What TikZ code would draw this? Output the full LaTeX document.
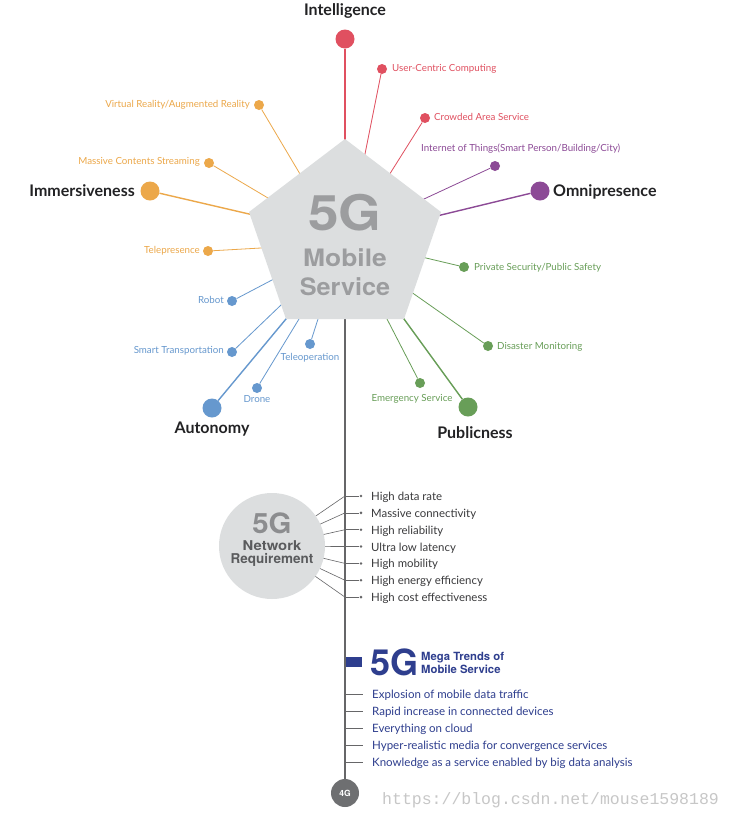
\documentclass[tikz,border=0pt]{standalone}
\usepackage{fontspec}
\setmainfont{Lato}
\newfontfamily\heros{TeX Gyre Heros}
\newfontfamily\wmfont{Liberation Mono}
\usetikzlibrary{calc}
\definecolor{cRed}{RGB}{224,80,96}
\definecolor{cOrange}{RGB}{236,168,74}
\definecolor{cPurple}{RGB}{140,74,150}
\definecolor{cGreen}{RGB}{104,158,88}
\definecolor{cBlue}{RGB}{102,152,206}
\definecolor{cPent}{RGB}{220,222,223}
\definecolor{cPentText}{RGB}{156,157,159}
\definecolor{cCat}{RGB}{34,34,36}
\definecolor{cNavy}{RGB}{46,62,142}
\definecolor{cAxis}{RGB}{102,102,104}
\definecolor{cReq}{RGB}{58,58,60}
\definecolor{cFourG}{RGB}{110,111,113}
\definecolor{cNetText}{RGB}{90,91,93}
\definecolor{cNet5G}{RGB}{140,141,143}
\begin{document}
\begin{tikzpicture}[x=1pt,y=-1pt,
  bigdot/.style={circle,fill=#1,inner sep=0pt,minimum size=19pt},
  smalldot/.style={circle,fill=#1,inner sep=0pt,minimum size=10pt},
  thinline/.style={draw=#1,line width=0.8pt,shorten >=-6pt},
  mainline/.style={draw=#1,line width=1.4pt,shorten >=-6pt},
  cat/.style={font=\fontsize{16}{18}\selectfont\bfseries,text=cCat,inner sep=0pt},
  lab/.style={font=\fontsize{9.75}{11}\selectfont,text=#1,inner sep=0pt,text height=7pt,text depth=2pt},
  req/.style={font=\fontsize{11.4}{13}\selectfont,text=cReq,inner sep=0pt,anchor=base west},
  trend/.style={font=\fontsize{11.5}{13}\selectfont,text=cNavy,inner sep=0pt,anchor=base west},
  tick/.style={draw=cAxis,line width=0.6pt},
  reqdot/.style={circle,fill=cAxis,inner sep=0pt,minimum size=2.8pt},
]
\useasboundingbox (0,0) rectangle (733,820);
\fill[white] (0,0) rectangle (733,820);

% pentagon corners
\coordinate (pT) at (345,139);
\coordinate (pR) at (441,212);
\coordinate (pBR) at (404,319);
\coordinate (pBL) at (286,319);
\coordinate (pL) at (249,212);

% dots
\node[bigdot=cRed] (int) at (345,39) {};
\node[smalldot=cRed] (uc) at (382,69) {};
\node[smalldot=cRed] (ca) at (425,118) {};
\node[smalldot=cPurple] (iot) at (495,166) {};
\node[bigdot=cPurple] (omni) at (540,191) {};
\node[smalldot=cGreen] (ps) at (464,267) {};
\node[smalldot=cGreen] (dm) at (488,346) {};
\node[bigdot=cGreen] (pub) at (468,407) {};
\node[smalldot=cGreen] (es) at (420,383) {};
\node[smalldot=cBlue] (tele) at (310,344) {};
\node[smalldot=cBlue] (drone) at (257,388) {};
\node[bigdot=cBlue] (auto) at (212,408) {};
\node[smalldot=cBlue] (st) at (232,352) {};
\node[smalldot=cBlue] (robot) at (232,301) {};
\node[smalldot=cOrange] (telep) at (208,251) {};
\node[smalldot=cOrange] (mcs) at (209,163) {};
\node[smalldot=cOrange] (vr) at (259,105) {};
\node[bigdot=cOrange] (imm) at (150,191) {};

% edge points on the pentagon
\coordinate (eInt) at (345,139);
\coordinate (eUc) at (365,154);
\coordinate (eCa) at (391,172);
\coordinate (eIot) at (424,199);
\coordinate (eOmni) at (441,215);
\coordinate (ePs) at (426,258);
\coordinate (eDm) at (414,294);
\coordinate (ePub) at (404,319);
\coordinate (eEs) at (387,319);
\coordinate (eTele) at (318,319);
\coordinate (eDrone) at (299,319);
\coordinate (eAuto) at (286,319);
\coordinate (eSt) at (281,305);
\coordinate (eRobot) at (272,280);
\coordinate (eTelep) at (261,248);
\coordinate (eMcs) at (268,198);
\coordinate (eVr) at (300,174);
\coordinate (eImm) at (249,214);

% connectors
\draw[mainline=cRed] (int) -- (eInt);
\draw[thinline=cRed] (uc) -- (eUc);
\draw[thinline=cRed] (ca) -- (eCa);
\draw[thinline=cPurple] (iot) -- (eIot);
\draw[mainline=cPurple] (omni) -- (eOmni);
\draw[thinline=cGreen] (ps) -- (ePs);
\draw[thinline=cGreen] (dm) -- (eDm);
\draw[mainline=cGreen] (pub) -- (ePub);
\draw[thinline=cGreen] (es) -- (eEs);
\draw[thinline=cBlue] (tele) -- (eTele);
\draw[thinline=cBlue] (drone) -- (eDrone);
\draw[mainline=cBlue] (auto) -- (eAuto);
\draw[thinline=cBlue] (st) -- (eSt);
\draw[thinline=cBlue] (robot) -- (eRobot);
\draw[thinline=cOrange] (telep) -- (eTelep);
\draw[thinline=cOrange] (mcs) -- (eMcs);
\draw[thinline=cOrange] (vr) -- (eVr);
\draw[mainline=cOrange] (imm) -- (eImm);

% vertical axis
\node[circle,fill=cFourG,inner sep=0pt,minimum size=28pt,text=white,font=\heros\bfseries\fontsize{8.5}{9}\selectfont] (fourg) at (345,793) {4G};
\coordinate (axisTop) at (345,319);
\draw[draw=cAxis,line width=2pt] (axisTop) -- (fourg);

% pentagon
\fill[cPent] (pT) -- (pR) -- (pBR) -- (pBL) -- (pL) -- cycle;
\node[text=cPentText,font=\heros\bfseries\fontsize{49}{50}\selectfont,inner sep=0pt] (t5g) at (345,213) {\scalebox{1.12}[1]{5G}};
\node[text=cPentText,font=\heros\bfseries\fontsize{24}{26}\selectfont,inner sep=0pt] (tmob) at (345,258) {\scalebox{1.1}[1]{Mobile}};
\node[text=cPentText,font=\heros\bfseries\fontsize{24}{26}\selectfont,inner sep=0pt] (tserv) at (345,287) {\scalebox{1.05}[1]{Service}};

% category labels
\node[cat] (lInt) at (345,11) {Intelligence};
\node[cat,anchor=east] (lImm) at (135,191) {Immersiveness};
\node[cat,anchor=west] (lOmni) at (553,192) {Omnipresence};
\node[cat] (lAuto) at (212,429) {Autonomy};
\node[cat] (lPub) at (475,433) {Publicness};

% small labels
\node[lab=cRed,anchor=west] (lUc) at (392,69) {User-Centric Computing};
\node[lab=cRed,anchor=west] (lCa) at (434,118) {Crowded Area Service};
\node[lab=cPurple,anchor=west] (lIot) at (421,149) {Internet of Things(Smart Person/Building/City)};
\node[lab=cOrange,anchor=east] (lVr) at (250,105) {Virtual Reality/Augmented Reality};
\node[lab=cOrange,anchor=east] (lMcs) at (200,162) {Massive Contents Streaming};
\node[lab=cOrange,anchor=east] (lTelep) at (200,251) {Telepresence};
\node[lab=cGreen,anchor=west] (lPs) at (474,268) {Private Security/Public Safety};
\node[lab=cGreen,anchor=west] (lDm) at (497,347) {Disaster Monitoring};
\node[lab=cGreen] (lEs) at (412,399) {Emergency Service};
\node[lab=cBlue,anchor=east] (lRobot) at (224,301) {Robot};
\node[lab=cBlue,anchor=east] (lSt) at (224,351) {Smart Transportation};
\node[lab=cBlue] (lTele) at (310,358) {Teleoperation};
\node[lab=cBlue] (lDrone) at (257,400) {Drone};

% network requirement
\coordinate (netc) at (272,546);
\foreach \i/\t in {0/High data rate,1/Massive connectivity,2/High reliability,3/Ultra low latency,4/High mobility,5/High energy efficiency,6/High cost effectiveness}{
  \coordinate (ra\i) at (345,{496+16.85*\i});
  \node[reqdot] (rd\i) at (361,{496+16.85*\i}) {};
  \draw[draw=cAxis,line width=0.6pt] (netc) -- (ra\i);
  \draw[tick] (ra\i) -- (rd\i);
  \node[req] (rt\i) at (371,{500.5+16.85*\i}) {\t};
}
\node[circle,fill=cPent,inner sep=0pt,minimum size=106pt] (net) at (netc) {};
\node[text=cNet5G,font=\heros\bfseries\fontsize{28}{30}\selectfont,inner sep=0pt] (n5g) at (272,523) {\scalebox{1.05}[1]{5G}};
\node[text=cNetText,font=\heros\bfseries\fontsize{13.5}{15}\selectfont,inner sep=0pt,align=center] (nreq) at (272,554) {\scalebox{1.1}[1]{Network}\\[-2pt]Requirement};

% mega trends
\node[fill=cNavy,inner sep=0pt,minimum width=16pt,minimum height=10pt] (navybox) at (354,662) {};
\node[text=cNavy,font=\heros\bfseries\fontsize{36}{38}\selectfont,inner sep=0pt,anchor=west] (m5g) at (370,662) {5G};
\node[text=cNavy,font=\heros\bfseries\fontsize{11.3}{13}\selectfont,inner sep=0pt,anchor=west,align=left] (mtt) at (421,663) {Mega Trends of\\Mobile Service};
\foreach \i/\t in {0/Explosion of mobile data traffic,1/Rapid increase in connected devices,2/Everything on cloud,3/Hyper-realistic media for convergence services,4/Knowledge as a service enabled by big data analysis}{
  \coordinate (ta\i) at (345,{694+17*\i});
  \coordinate (tb\i) at (363,{694+17*\i});
  \draw[tick] (ta\i) -- (tb\i);
  \node[trend] (tt\i) at (372,{698.5+17*\i}) {\t};
}

% watermark
\node[text=black!22,font=\wmfont\fontsize{16.5}{18}\selectfont,inner sep=0pt,anchor=west] (wm) at (382,800) {https://blog.csdn.net/mouse1598189};
\end{tikzpicture}
\end{document}
